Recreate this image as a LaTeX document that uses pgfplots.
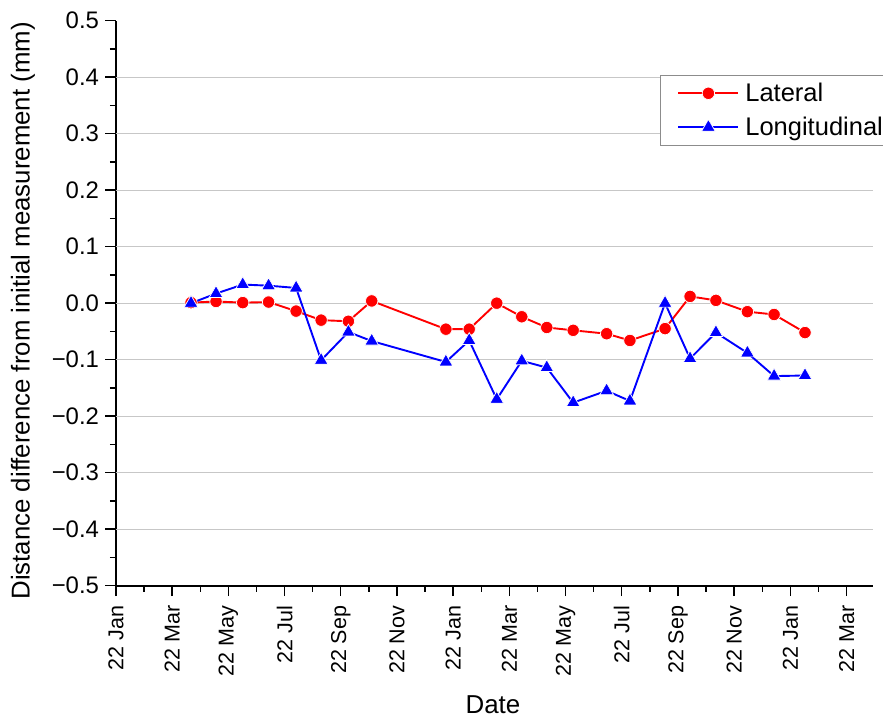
\documentclass[border=0pt]{standalone}
\usepackage{fontspec}
\setmainfont{Liberation Sans}
\usepackage{pgfplots}
\pgfplotsset{compat=1.18}

\pgfplotstableread{
x      lat     lon
2.67   0.001   0.000
3.56   0.003   0.017
4.51   0.001   0.033
5.43   0.002   0.031
6.41  -0.014   0.027
7.30  -0.030  -0.101
8.27  -0.032  -0.051
9.10   0.004  -0.067
11.74 -0.046  -0.104
12.57 -0.046  -0.066
13.55  0.000  -0.170
14.44 -0.024  -0.102
15.33 -0.043  -0.114
16.27 -0.048  -0.176
17.46 -0.054  -0.155
18.29 -0.066  -0.173
19.54 -0.045   0.000
20.43  0.012  -0.098
21.35  0.005  -0.052
22.47 -0.015  -0.088
23.42 -0.020  -0.129
24.52 -0.052  -0.128
}\movedata

\begin{document}
\begin{tikzpicture}
\useasboundingbox (-116bp,-132.2bp) rectangle (767bp,585.7bp);
\begin{axis}[
    scale only axis,
    width=757bp, height=565bp,
    xmin=0, xmax=26.94,
    ymin=-0.5, ymax=0.5,
    axis lines*=left,
    axis line style={-, line width=1.6bp, black},
    tick align=outside,
    major tick length=10.5bp,
    minor tick length=6bp,
    every tick/.style={black, line width=1.4bp},
    xtick={0,2,...,26},
    xticklabels={22 Jan,22 Mar,22 May,22 Jul,22 Sep,22 Nov,22 Jan,22 Mar,22 May,22 Jul,22 Sep,22 Nov,22 Jan,22 Mar},
    minor x tick num=1,
    ytick={-0.5,-0.4,-0.3,-0.2,-0.1,0,0.1,0.2,0.3,0.4,0.5},
    yticklabels={−0.5,−0.4,−0.3,−0.2,−0.1,0.0,0.1,0.2,0.3,0.4,0.5},
    minor y tick num=1,
    extra y ticks={-0.4,-0.3,-0.2,-0.1,0,0.1,0.2,0.3,0.4},
    extra y tick labels={},
    extra y tick style={grid=major, major tick length=0pt,
        major grid style={draw=black!22, line width=1.1bp}},
    xticklabel style={font=\fontsize{21.6}{25}\selectfont, rotate=90, anchor=east},
    yticklabel style={font=\fontsize{24}{28}\selectfont},
    xticklabel shift=6bp,
    yticklabel shift=3bp,
    xlabel={Date},
    ylabel={Distance difference from initial measurement (mm)},
    xlabel style={font=\fontsize{26}{30}\selectfont,
        at={(axis description cs:0.498,-0.2265)}, anchor=base},
    ylabel style={font=\fontsize{25.9}{30}\selectfont,
        at={(axis description cs:-0.1142,0.4864)}, anchor=base},
    legend style={at={(0.7187,0.904)}, anchor=north west,
        draw=black!45, line width=0.8bp, fill=white,
        font=\fontsize{25.6}{30}\selectfont,
        inner xsep=17bp, inner ysep=6bp, row sep=10bp, column sep=4bp},
    legend cell align=left,
    legend image code/.code={\draw[mark repeat=2, mark phase=2]
        plot coordinates {(0bp,0bp) (30bp,0bp) (60bp,0bp)};},
]
\addplot[red, line width=1.9bp, mark=*, mark size=6.2bp,
    mark options={draw=white, line width=0.7bp, fill=red}]
    table[x=x, y=lat] {\movedata};
\addlegendentry{Lateral}
\addplot[blue, line width=1.9bp, mark=triangle*, mark size=7.9bp,
    mark options={draw=white, line width=0.7bp, fill=blue}]
    table[x=x, y=lon] {\movedata};
\addlegendentry{Longitudinal}
\end{axis}
\end{tikzpicture}
\end{document}
